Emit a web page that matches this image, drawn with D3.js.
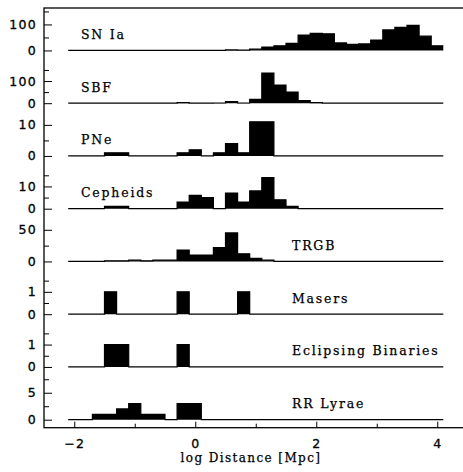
<!DOCTYPE html>
<html>
<head>
<meta charset="utf-8">
<script src="https://cdn.jsdelivr.net/npm/d3@7"></script>
<style>
    body { margin: 0; background: #ffffff; }
    svg { display: block; }
    .Tick text { font-family: "DejaVu Sans", sans-serif; font-size: 12.5px; letter-spacing: 1.3px; fill: #000; stroke: #000; stroke-width: 0.3px; }
    .Label { font-family: "DejaVu Serif", serif; font-size: 12.5px; letter-spacing: 1.8px; fill: #000; stroke: #000; stroke-width: 0.25px; }
</style>
</head>
<body>
<div class="Chart"></div>
<script>

// bin centres in log Distance [Mpc], bins are 0.2 wide
const bin_centers = [-2.0, -1.8, -1.6, -1.4, -1.2, -1.0, -0.8, -0.6, -0.4, -0.2,
    0.0, 0.2, 0.4, 0.6, 0.8, 1.0, 1.2, 1.4, 1.6, 1.8,
    2.0, 2.2, 2.4, 2.6, 2.8, 3.0, 3.2, 3.4, 3.6, 3.8, 4.0];

const methods = ["SN Ia", "SBF", "PNe", "Cepheids", "TRGB", "Masers", "Eclipsing Binaries", "RR Lyrae"];

const sn_ia = [0, 0, 0, 0, 0, 0, 0, 0, 0, 0, 0, 0, 0, 2, 1, 5, 13, 18, 27, 59, 66, 64, 29, 23, 25, 40, 79, 89, 96, 55, 18];
const sbf = [0, 0, 0, 0, 0, 0, 0, 0, 0, 3, 0, 0, 1, 7, 1, 17, 136, 82, 50, 12, 3, 0, 0, 0, 0, 0, 0, 0, 0, 0, 0];
const pne = [0, 0, 0, 1, 1, 0, 0, 0, 0, 1, 2, 0, 1, 4, 1, 11, 11, 0, 0, 0, 0, 0, 0, 0, 0, 0, 0, 0, 0, 0, 0];
const cepheids = [0, 0, 0, 1, 1, 0, 0, 0, 0, 3, 6, 5, 0, 7, 3, 8, 14, 4, 1, 0, 0, 0, 0, 0, 0, 0, 0, 0, 0, 0, 0];
const trgb = [0, 0, 0, 1, 1, 2, 1, 2, 2, 18, 10, 10, 22, 45, 12, 5, 2, 0, 0, 0, 0, 0, 0, 0, 0, 0, 0, 0, 0, 0, 0];
const masers = [0, 0, 0, 1, 0, 0, 0, 0, 0, 1, 0, 0, 0, 0, 1, 0, 0, 0, 0, 0, 0, 0, 0, 0, 0, 0, 0, 0, 0, 0, 0];
const eclipsing = [0, 0, 0, 1, 1, 0, 0, 0, 0, 1, 0, 0, 0, 0, 0, 0, 0, 0, 0, 0, 0, 0, 0, 0, 0, 0, 0, 0, 0, 0, 0];
const rr_lyrae = [0, 0, 1, 1, 2, 3, 1, 1, 0, 3, 3, 0, 0, 0, 0, 0, 0, 0, 0, 0, 0, 0, 0, 0, 0, 0, 0, 0, 0, 0, 0];

const counts = [sn_ia, sbf, pne, cepheids, trgb, masers, eclipsing, rr_lyrae];

// labelled and unlabelled y ticks for every panel
const major_ticks = [[0, 100], [0, 100], [0, 10], [0, 10], [0, 50], [0, 1], [0, 1], [0, 5]];
const minor_ticks = [[50, 150], [50, 150], [5], [5, 15], [25], [0.5, 1.5], [0.5, 1.5], [2.5, 7.5]];
const x_major_ticks = [-2, 0, 2, 4];
const x_minor_ticks = [-1, 1, 3];

// value reached at the top of each panel
const panel_top_values = [172, 202, 14.4, 20.1, 70.7, 2.0, 2.0, 8.3];
// label on the left (true) or on the right (false)
const label_left = [true, true, true, true, false, false, false, false];

const width = 463;
const height = 472;
const frame = {left: 44, right: 467.5, top: 8, bottom: 427.7};
const panel_height = 52.75;
const zero_offset = 8;
const bin_width = 0.2;

const svg = d3.select(".Chart").append("svg")
    .attr("width", width)
    .attr("height", height);

const x = d3.scaleLinear().domain([-2.5, 4.5]).range([frame.left, frame.right]);

// histogram outline: points at the left edge of every bin plus the last right edge
const make_steps = function (values) {
    const steps = bin_centers.map((c, i) => ({edge: c - bin_width / 2, value: values[i]}));
    const last = bin_centers.length - 1;
    steps.push({edge: bin_centers[last] + bin_width / 2, value: values[last]});
    return steps;
};

methods.forEach((name, i) => {

    const zero_y = frame.bottom - zero_offset - (methods.length - 1 - i) * panel_height;
    const y = d3.scaleLinear()
        .domain([0, panel_top_values[i]])
        .range([zero_y, zero_y - (panel_height - zero_offset)]);

    const panel = svg.append("g").attr("class", "Panel");
    const steps = make_steps(counts[i]);

    const area = d3.area()
        .x(d => x(d.edge))
        .y0(y(0))
        .y1(d => y(d.value))
        .curve(d3.curveStepAfter);

    const line = d3.line()
        .x(d => x(d.edge))
        .y(d => y(d.value))
        .curve(d3.curveStepAfter);

    panel.append("path")
        .datum(steps)
        .attr("d", area)
        .attr("fill", "#000");

    panel.append("path")
        .datum(steps)
        .attr("d", line)
        .attr("fill", "none")
        .attr("stroke", "#000")
        .attr("stroke-width", 1.2);

    // y axis ticks point into the frame
    panel.append("g")
        .attr("class", "Tick")
        .attr("transform", `translate(${frame.left},0)`)
        .call(d3.axisLeft(y).tickValues(major_ticks[i]).tickSize(-8).tickPadding(7).tickFormat(d3.format("d")))
        .call(g => g.select(".domain").remove())
        .call(g => g.selectAll("line").attr("stroke", "#000"));

    panel.append("g")
        .attr("class", "Tick")
        .attr("transform", `translate(${frame.left},0)`)
        .call(d3.axisLeft(y).tickValues(minor_ticks[i]).tickSize(-5).tickFormat(""))
        .call(g => g.select(".domain").remove())
        .call(g => g.selectAll("line").attr("stroke", "#000"));

    panel.append("text")
        .attr("class", "Label")
        .attr("x", label_left[i] ? 81 : 292)
        .attr("y", zero_y - 16)
        .attr("dominant-baseline", "central")
        .text(name);
});

// x axis
svg.append("g")
    .attr("class", "Tick")
    .attr("transform", `translate(0,${frame.bottom})`)
    .call(d3.axisBottom(x).tickValues(x_major_ticks).tickSize(-6).tickPadding(11).tickFormat(d3.format("d")))
    .call(g => g.select(".domain").remove())
    .call(g => g.selectAll("line").attr("stroke", "#000"));

svg.append("g")
    .attr("class", "Tick")
    .attr("transform", `translate(0,${frame.bottom})`)
    .call(d3.axisBottom(x).tickValues(x_minor_ticks).tickSize(-4).tickFormat(""))
    .call(g => g.select(".domain").remove())
    .call(g => g.selectAll("line").attr("stroke", "#000"));

// frame
svg.append("rect")
    .attr("x", frame.left)
    .attr("y", frame.top)
    .attr("width", frame.right - frame.left)
    .attr("height", frame.bottom - frame.top)
    .attr("fill", "none")
    .attr("stroke", "#000")
    .attr("stroke-width", 1.3);

svg.append("text")
    .attr("class", "Label")
    .attr("x", 251)
    .attr("y", 458)
    .attr("text-anchor", "middle")
    .attr("dominant-baseline", "central")
    .style("font-size", "12px")
    .style("letter-spacing", "1.4px")
    .text("log Distance [Mpc]");

</script>
</body>
</html>
